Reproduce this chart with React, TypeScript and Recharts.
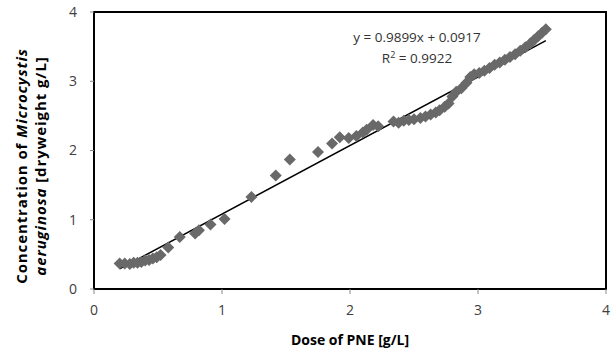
import React from "react";
import {
  ScatterChart,
  Scatter,
  XAxis,
  YAxis,
  ReferenceLine,
  ReferenceArea,
} from "recharts";

// dose of PNE [g/L]
const doseX = [
  0.2, 0.24, 0.28, 0.31, 0.34, 0.37, 0.4, 0.43, 0.46, 0.49, 0.52, 0.58, 0.67,
  0.79, 0.82, 0.91, 1.02, 1.23, 1.42, 1.53, 1.75, 1.86, 1.92, 1.99, 2.05, 2.1,
  2.13, 2.18, 2.22, 2.34, 2.38, 2.42, 2.46, 2.5, 2.55, 2.59, 2.63, 2.67, 2.7,
  2.74, 2.77, 2.8, 2.83, 2.87, 2.91, 2.94, 2.97, 3.01, 3.05, 3.09, 3.13, 3.17,
  3.21, 3.25, 3.29, 3.33, 3.37, 3.41, 3.44, 3.47, 3.5, 3.53,
];

// concentration of Microcystis aeruginosa [dryweight g/L]
const concY = [
  0.37, 0.37, 0.36, 0.38, 0.38, 0.39, 0.41, 0.42, 0.44, 0.46, 0.49, 0.6, 0.75,
  0.8, 0.85, 0.93, 1.01, 1.33, 1.64, 1.87, 1.98, 2.1, 2.19, 2.18, 2.21, 2.26,
  2.3, 2.37, 2.35, 2.42, 2.4, 2.43, 2.44, 2.45, 2.47, 2.49, 2.52, 2.55, 2.58,
  2.63, 2.68, 2.78, 2.85, 2.9, 2.98, 3.06, 3.1, 3.12, 3.15, 3.19, 3.24, 3.27,
  3.31, 3.35, 3.39, 3.44, 3.49, 3.55, 3.6, 3.65, 3.7, 3.75,
];

const axisTicks = [0, 1, 2, 3, 4];

// linear trendline from the chart
const slope = 0.9899;
const intercept = 0.0917;
const rSquared = 0.9922;

const points = doseX.map((x, i) => ({ x, y: concY[i] }));
const xMin = Math.min(...doseX);
const xMax = Math.max(...doseX);

const FONT = "'Open Sans', 'Noto Sans', sans-serif";
const MARKER = "#696969";

function Diamond(props: any) {
  const { cx, cy } = props;
  const r = 6;
  return (
    <polygon
      points={`${cx},${cy - r} ${cx + r},${cy} ${cx},${cy + r} ${cx - r},${cy}`}
      fill={MARKER}
    />
  );
}

export default function App() {
  return (
    <div style={{ position: "absolute", left: 0, top: 0, width: 616, height: 354, background: "#fff" }}>
      <ScatterChart
        width={616}
        height={354}
        margin={{ top: 12, right: 10, bottom: 0, left: 0 }}
        style={{ fontFamily: FONT }}
      >
        <XAxis
          type="number"
          dataKey="x"
          domain={[0, 4]}
          ticks={axisTicks}
          height={65}
          axisLine={{ stroke: "#000", strokeWidth: 2 }}
          tickLine={{ stroke: "#888" }}
          tickSize={5}
          tickMargin={11}
          tick={{ fill: "#404040", fontSize: 14 }}
          label={{
            value: "Dose of PNE [g/L]",
            position: "insideBottom",
            offset: 9,
            style: { fill: "#000", fontWeight: 700, fontSize: 14 },
          }}
        />
        <YAxis
          type="number"
          dataKey="y"
          domain={[0, 4]}
          ticks={axisTicks}
          width={94}
          axisLine={{ stroke: "#000", strokeWidth: 2 }}
          tickLine={{ stroke: "#888" }}
          tickSize={4}
          tickMargin={13}
          tick={{ fill: "#404040", fontSize: 14 }}
        />
        <ReferenceArea
          x1={0}
          x2={4}
          y1={0}
          y2={4}
          fill="none"
          stroke="#000"
          strokeWidth={2}
          fillOpacity={0}
        />
        <Scatter data={points} shape={Diamond} isAnimationActive={false} />
        <ReferenceLine
          segment={[
            { x: xMin, y: slope * xMin + intercept },
            { x: xMax, y: slope * xMax + intercept },
          ]}
          stroke="#000"
          strokeWidth={1.5}
        />
      </ScatterChart>
      <svg
        width={616}
        height={354}
        style={{ position: "absolute", left: 0, top: 0, pointerEvents: "none", fontFamily: FONT }}
      >
        <g transform="translate(21,166) rotate(-90)">
          <text textAnchor="middle" dominantBaseline="central" fontSize={15} letterSpacing={0.9} fontWeight={700} fill="#000">
            Concentration of <tspan fontStyle="italic">Microcystis</tspan>
          </text>
        </g>
        <g transform="translate(40,166) rotate(-90)">
          <text textAnchor="middle" dominantBaseline="central" fontSize={15} letterSpacing={0.9} fontWeight={700} fill="#000">
            <tspan fontStyle="italic">aeruginosa</tspan> [dryweight g/L]
          </text>
        </g>
        <text x={417} y={42} textAnchor="middle" fontSize={13.5} fill="#333">
          {`y = ${slope}x + ${intercept}`}
        </text>
        <text x={417} y={63} textAnchor="middle" fontSize={13.5} fill="#333">
          R<tspan fontSize={9} dy={-5}>2</tspan>
          <tspan dy={5}>{` = ${rSquared}`}</tspan>
        </text>
      </svg>
    </div>
  );
}
